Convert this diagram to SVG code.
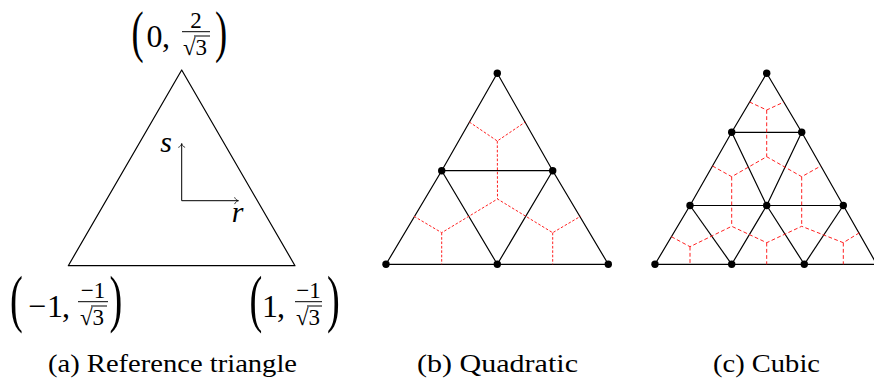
<svg xmlns="http://www.w3.org/2000/svg" width="874" height="384" viewBox="0 0 874 384">
<style>
.edge{fill:none;stroke:#000;stroke-width:1.2;stroke-linejoin:round}
.dual{fill:none;stroke:#ff2020;stroke-width:1;stroke-linejoin:miter}
.db{stroke-dasharray:2.6 1.8}
.dc{stroke-dasharray:3.8 2.4}
.dot{fill:#000}
.bar{stroke:#000;stroke-width:1}
</style>
<defs>
<marker id="tip" markerWidth="10" markerHeight="10" refX="0" refY="0" viewBox="-5 -5 10 10" orient="auto" markerUnits="userSpaceOnUse">
<path d="M-3.8,-3.4 C-3,-1.3 -1.2,-0.3 0,0 C-1.2,0.3 -3,1.3 -3.8,3.4" fill="none" stroke="#000" stroke-width="0.8"/>
</marker>
</defs>

<g id="ref-triangle">
<polygon class="edge" points="181.7,70 68.3,265.7 295,265.7"/>
<line x1="181.7" y1="200.7" x2="181.7" y2="143.6" stroke="#000" stroke-width="1" marker-end="url(#tip)"/>
<line x1="181.7" y1="200.7" x2="238.4" y2="200.7" stroke="#000" stroke-width="1" marker-end="url(#tip)"/>
<text x="166" y="152" text-anchor="middle" font-size="30" font-style="italic" font-family="'Liberation Serif'">s</text>
<text x="237.5" y="222" text-anchor="middle" font-size="30" font-style="italic" font-family="'Liberation Serif'">r</text>
</g>

<g id="label-top" font-family="'Liberation Serif'">
<text font-size="57" text-anchor="middle" transform="translate(137.5,51) scale(0.64,1)">(</text>
<text font-size="32" x="154.5" y="47" text-anchor="middle">0</text>
<text font-size="32" x="166" y="47" text-anchor="middle">,</text>
<text font-size="23" x="196" y="28" text-anchor="middle">2</text>
<line class="bar" x1="182" y1="31.7" x2="210" y2="31.7"/>
<text font-size="23" x="183" y="55">√3</text>
<line class="bar" x1="194" y1="36" x2="210" y2="36"/>
<text font-size="57" text-anchor="middle" transform="translate(221,51) scale(0.64,1)">)</text>
</g>

<g id="label-left" font-family="'Liberation Serif'">
<text font-size="64" text-anchor="middle" transform="translate(16.5,320) scale(0.6,1)">(</text>
<text font-size="32" x="37" y="317" text-anchor="middle">−</text>
<text font-size="32" x="55" y="317" text-anchor="middle">1</text>
<text font-size="32" x="66" y="317" text-anchor="middle">,</text>
<text font-size="23" x="93" y="298" text-anchor="middle">−1</text>
<line class="bar" x1="78" y1="301.7" x2="108" y2="301.7"/>
<text font-size="23" x="80" y="325">√3</text>
<line class="bar" x1="91" y1="306" x2="107" y2="306"/>
<text font-size="64" text-anchor="middle" transform="translate(116,320) scale(0.6,1)">)</text>
</g>

<g id="label-right" font-family="'Liberation Serif'">
<text font-size="64" text-anchor="middle" transform="translate(256,320) scale(0.6,1)">(</text>
<text font-size="32" x="270" y="317" text-anchor="middle">1</text>
<text font-size="32" x="281" y="317" text-anchor="middle">,</text>
<text font-size="23" x="308.5" y="298" text-anchor="middle">−1</text>
<line class="bar" x1="295" y1="301.7" x2="322" y2="301.7"/>
<text font-size="23" x="296" y="325">√3</text>
<line class="bar" x1="307" y1="306" x2="322" y2="306"/>
<text font-size="64" text-anchor="middle" transform="translate(333.5,320) scale(0.6,1)">)</text>
</g>

<g id="connectors">
<polyline class="edge" points="497.3,73.3 441.7,170.7 386,264.3 497.3,264.3 608.3,264.3 552.7,170.7 497.3,73.3"/>
<polyline class="edge" points="441.7,170.7 552.7,170.7 497.3,264.3 441.7,170.7"/>
<polyline class="dual db" points="469.3,122 497.3,141 525.3,122"/>
<line class="dual db" x1="497.3" y1="141" x2="497.5" y2="199"/>
<polyline class="dual db" points="414,216.3 441.7,232.7 497.5,199 552.7,232.7 580.5,216.3"/>
<line class="dual db" x1="441.7" y1="232.7" x2="441.7" y2="264.3"/>
<line class="dual db" x1="552.7" y1="232.7" x2="552.7" y2="264.3"/>

<polyline class="edge" points="766.7,73.3 731.7,132.3 690,205.5 655,264.3 731.7,264.3 804.3,264.3 880,264.3"/>
<polyline class="edge" points="766.7,73.3 801.7,132.3 843.3,205.5 880,270"/>
<line class="edge" x1="731.7" y1="132.3" x2="801.7" y2="132.3"/>
<line class="edge" x1="690" y1="205.5" x2="843.3" y2="205.5"/>
<polyline class="edge" points="731.7,132.3 766.7,205.5 804.3,264.3"/>
<polyline class="edge" points="801.7,132.3 766.7,205.5 731.7,264.3"/>
<line class="edge" x1="690" y1="205.5" x2="731.7" y2="264.3"/>
<line class="edge" x1="843.3" y1="205.5" x2="804.3" y2="264.3"/>
<polyline class="dual dc" points="749.5,102 766.7,110 784,102"/>
<line class="dual dc" x1="766.7" y1="110" x2="766.7" y2="156.7"/>
<polyline class="dual dc" points="712.5,166 731.7,176.7 766.7,156.7 801.7,176.7 820.8,166"/>
<line class="dual dc" x1="731.7" y1="176.7" x2="731.7" y2="226.3"/>
<line class="dual dc" x1="801.7" y1="176.7" x2="801.7" y2="226.3"/>
<polyline class="dual dc" points="671.4,236.7 690,246.7 731.7,226.3 766.7,242.7 801.7,226.3 843.3,242.7 859.5,232.7"/>
<line class="dual dc" x1="690" y1="246.7" x2="690" y2="264.3"/>
<line class="dual dc" x1="766.7" y1="242.7" x2="766.7" y2="264.3"/>
<line class="dual dc" x1="843.3" y1="242.7" x2="843.3" y2="264.3"/>
</g>

<g id="b-n1"><circle class="dot" cx="497.3" cy="73.3" r="3.7"/></g>
<g id="b-n2"><circle class="dot" cx="441.7" cy="170.7" r="3.7"/></g>
<g id="b-n3"><circle class="dot" cx="552.7" cy="170.7" r="3.7"/></g>
<g id="b-n4"><circle class="dot" cx="386" cy="264.3" r="3.7"/></g>
<g id="b-n5"><circle class="dot" cx="497.3" cy="264.3" r="3.7"/></g>
<g id="b-n6"><circle class="dot" cx="608.3" cy="264.3" r="3.7"/></g>

<g id="c-n1"><circle class="dot" cx="766.7" cy="73.3" r="3.7"/></g>
<g id="c-n2"><circle class="dot" cx="731.7" cy="132.3" r="3.7"/></g>
<g id="c-n3"><circle class="dot" cx="801.7" cy="132.3" r="3.7"/></g>
<g id="c-n4"><circle class="dot" cx="690" cy="205.5" r="3.7"/></g>
<g id="c-n5"><circle class="dot" cx="766.7" cy="205.5" r="3.7"/></g>
<g id="c-n6"><circle class="dot" cx="843.3" cy="205.5" r="3.7"/></g>
<g id="c-n7"><circle class="dot" cx="655" cy="264.3" r="3.7"/></g>
<g id="c-n8"><circle class="dot" cx="731.7" cy="264.3" r="3.7"/></g>
<g id="c-n9"><circle class="dot" cx="804.3" cy="264.3" r="3.7"/></g>

<g id="captions" font-family="'Liberation Serif'" font-size="26">
<text x="48" y="372" textLength="249" lengthAdjust="spacingAndGlyphs">(a) Reference triangle</text>
<text x="417" y="372" textLength="161" lengthAdjust="spacingAndGlyphs">(b) Quadratic</text>
<text x="713" y="372" textLength="107" lengthAdjust="spacingAndGlyphs">(c) Cubic</text>
</g>
</svg>
